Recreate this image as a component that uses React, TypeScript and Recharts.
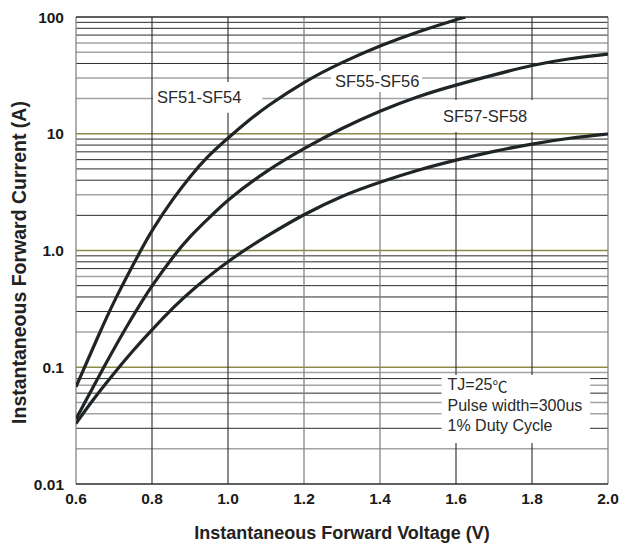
import { LineChart, Line, XAxis, YAxis, ReferenceLine, ReferenceArea } from "recharts"

const FONT = '"Liberation Sans", Arial, Helvetica, sans-serif'

// forward voltage (V) / forward current (A)
const V_SF51 = [0.6, 0.66, 0.7, 0.77, 0.8, 0.856, 0.9, 0.944, 1.0, 1.058, 1.1, 1.2, 1.3, 1.4, 1.5, 1.6, 1.625]
const I_SF51 = [0.068, 0.19, 0.37, 1.0, 1.5, 2.8, 4.3, 6.3, 9.2, 13.3, 17, 28, 41, 57, 75, 95, 100]

const V_SF55 = [0.6, 0.64, 0.678, 0.726, 0.774, 0.8, 0.86, 0.9, 0.944, 1.0, 1.1, 1.2, 1.3, 1.4, 1.5, 1.6, 1.7, 1.8, 1.9, 2.0]
const I_SF55 = [0.036, 0.063, 0.107, 0.204, 0.37, 0.5, 0.93, 1.32, 1.82, 2.75, 4.8, 7.5, 11.2, 15.7, 21, 26.2, 32, 38.8, 44.3, 48]

const V_SF57 = [0.6, 0.643, 0.7, 0.75, 0.797, 0.858, 0.9, 1.0, 1.1, 1.2, 1.3, 1.4, 1.5, 1.6, 1.7, 1.8, 1.9, 2.0]
const I_SF57 = [0.033, 0.052, 0.089, 0.139, 0.205, 0.33, 0.445, 0.82, 1.32, 2.05, 2.95, 3.86, 4.9, 5.96, 7.1, 8.2, 9.2, 9.95]

const X_TICKS = [0.6, 0.8, 1.0, 1.2, 1.4, 1.6, 1.8, 2.0]
const Y_TICKS = [0.01, 0.1, 1, 10, 100]
const Y_TICK_LABELS = ["0.01", "0.1", "1.0", "10", "100"]

// grid lines of the log paper
const DARK_MINOR = [0.03, 0.06, 0.08, 0.3, 0.4, 0.5, 0.7, 0.8, 0.9, 2, 4, 5, 6, 7, 8, 9, 40, 70, 80, 90]
const GRAY_MINOR = [0.02, 0.04, 0.05, 0.07, 0.09, 0.2, 0.6, 3, 20, 30, 50, 60]
const DECADES = [0.1, 1, 10]
const H_BORDERS = [0.01, 100]
const DARK_VERTICAL = [0.8, 1.0, 1.6, 1.8]
const GRAY_VERTICAL = [0.6, 1.2, 1.4, 2.0]

const toPoints = (v: number[], i: number[]) => v.map((x, k) => ({ v: x, i: i[k] }))

const sf51 = toPoints(V_SF51, I_SF51)
const sf55 = toPoints(V_SF55, I_SF55)
const sf57 = toPoints(V_SF57, I_SF57)

const curveLabel = (value: string) => ({
  value,
  position: "insideLeft" as const,
  offset: 4,
  fill: "#2a2a2a",
  fontSize: 16.5,
  fontFamily: FONT,
})

function ConditionText(props: any) {
  const { x, y, height } = props.viewBox
  const cy = y + height / 2 - 4
  const common = { x: x + 6, dominantBaseline: "central", fill: "#2a2a2a", fontSize: 16, fontFamily: FONT }
  return (
    <g>
      <text {...common} y={cy - 20.5}>
        TJ=25<tspan fontFamily='"Noto Sans CJK SC", "DejaVu Sans", sans-serif' fontSize={15}>℃</tspan>
      </text>
      <text {...common} y={cy}>
        Pulse width=300us
      </text>
      <text {...common} y={cy + 20.5}>
        1% Duty Cycle
      </text>
    </g>
  )
}

function XTitle(props: any) {
  const { x, y, width } = props.viewBox
  return (
    <text x={x + width / 2} y={y + 49} textAnchor="middle" dominantBaseline="central" fill="#222" fontSize={18} fontWeight={700} fontFamily={FONT}>
      Instantaneous Forward Voltage (V)
    </text>
  )
}

function YTitle(props: any) {
  const { x, y, height } = props.viewBox
  const cx = x + 19
  const cy = y + height / 2 + 12
  return (
    <text x={cx} y={cy} transform={`rotate(-90 ${cx} ${cy})`} textAnchor="middle" dominantBaseline="central" fill="#222" fontSize={19.5} fontWeight={700} fontFamily={FONT}>
      Instantaneous Forward Current (A)
    </text>
  )
}

const tickStyle = { fill: "#1a1a1a", fontSize: 15.5, fontWeight: 700, fontFamily: FONT }

export default function App() {
  return (
    <div style={{ position: "absolute", left: 0, top: 0, background: "#fff" }}>
      <LineChart width={622} height={545} margin={{ top: 17, right: 14, bottom: 0, left: 0 }}>
        <XAxis
          type="number"
          dataKey="v"
          domain={[0.6, 2.0]}
          ticks={X_TICKS}
          interval={0}
          allowDataOverflow
          tickFormatter={(t: number) => t.toFixed(1)}
          axisLine={false}
          tickLine={false}
          tickSize={0}
          tickMargin={9}
          height={61}
          tick={tickStyle}
          label={XTitle}
        />
        <YAxis
          type="number"
          scale="log"
          domain={[0.01, 100]}
          ticks={Y_TICKS}
          interval={0}
          allowDataOverflow
          tickFormatter={(t: number) => Y_TICK_LABELS[Y_TICKS.indexOf(t)] ?? String(t)}
          axisLine={false}
          tickLine={false}
          tickSize={0}
          tickMargin={12}
          width={76}
          tick={tickStyle}
          label={YTitle}
        />

        {GRAY_MINOR.map((y) => (
          <ReferenceLine key={`g${y}`} y={y} stroke="#a3a3a3" strokeWidth={1.5} zIndex={-20} />
        ))}
        {DARK_MINOR.map((y) => (
          <ReferenceLine key={`d${y}`} y={y} stroke="#2b2b2b" strokeWidth={1} zIndex={-20} />
        ))}
        {DECADES.map((y) => (
          <ReferenceLine key={`o${y}`} y={y} stroke="#8c8c48" strokeWidth={1.6} zIndex={-20} />
        ))}
        {GRAY_VERTICAL.map((x) => (
          <ReferenceLine key={`gv${x}`} x={x} stroke="#858585" strokeWidth={1.3} zIndex={-20} />
        ))}
        {DARK_VERTICAL.map((x) => (
          <ReferenceLine key={`dv${x}`} x={x} stroke="#2b2b2b" strokeWidth={1.1} zIndex={-20} />
        ))}
        {H_BORDERS.map((y) => (
          <ReferenceLine key={`b${y}`} y={y} stroke="#2b2b2b" strokeWidth={1.3} zIndex={-20} />
        ))}

        <ReferenceArea x1={0.8026} x2={1.09} y1={15.1} y2={27.8} fill="#fff" fillOpacity={1} stroke="none" label={curveLabel("SF51-SF54")} zIndex={50} />
        <ReferenceArea x1={1.271} x2={1.511} y1={22.8} y2={34.5} fill="#fff" fillOpacity={1} stroke="none" label={curveLabel("SF55-SF56")} zIndex={50} />
        <ReferenceArea x1={1.555} x2={1.808} y1={10.35} y2={19.5} fill="#fff" fillOpacity={1} stroke="none" label={curveLabel("SF57-SF58")} zIndex={50} />
        <ReferenceArea x1={1.562} x2={1.953} y1={0.0224} y2={0.0858} fill="#fff" fillOpacity={1} stroke="none" label={ConditionText} zIndex={50} />

        <Line data={sf51} dataKey="i" type="basis" stroke="#1f2427" strokeWidth={3.2} dot={false} activeDot={false} isAnimationActive={false} />
        <Line data={sf55} dataKey="i" type="basis" stroke="#1f2427" strokeWidth={3.2} dot={false} activeDot={false} isAnimationActive={false} />
        <Line data={sf57} dataKey="i" type="basis" stroke="#1f2427" strokeWidth={3.2} dot={false} activeDot={false} isAnimationActive={false} />
      </LineChart>
    </div>
  )
}
